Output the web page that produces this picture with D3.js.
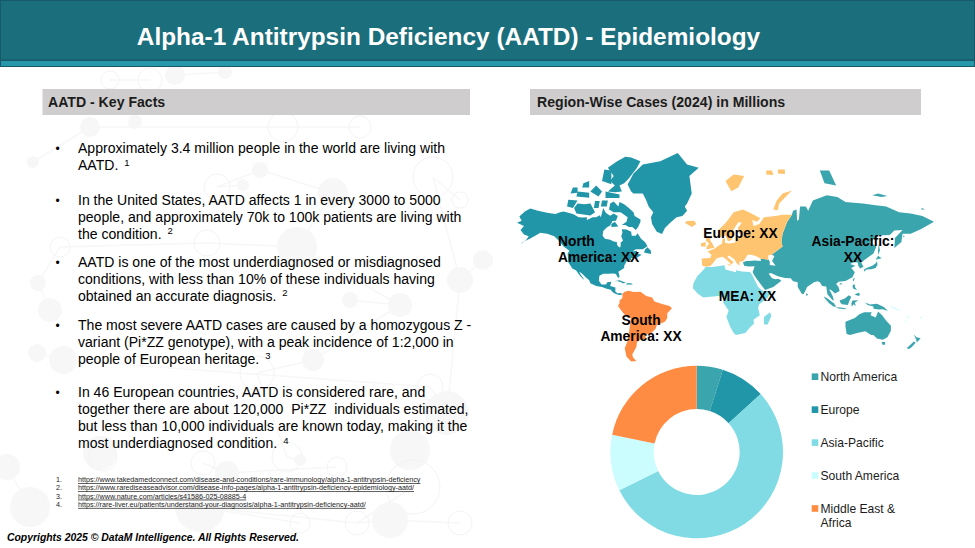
<!DOCTYPE html>
<html>
<head>
<meta charset="utf-8">
<title>AATD Epidemiology</title>
<script src="https://cdn.jsdelivr.net/npm/d3@7/dist/d3.min.js"></script>
<style>
  html, body { margin: 0; padding: 0; background: #fff; overflow: hidden; }
  svg { display: block; }
  text { font-family: "Liberation Sans", Arial, sans-serif; fill: #000; }
</style>
</head>
<body>
<svg id="slide" width="975" height="548"></svg>
<script>

//// DATA

var titleText = "Alpha-1 Antitrypsin Deficiency (AATD) - Epidemiology";
var leftHeading = "AATD - Key Facts";
var rightHeading = "Region-Wise Cases (2024) in Millions";
var copyrightText = "Copyrights 2025 © DataM Intelligence. All Rights Reserved.";

// Donut chart
var regionNames = ["North America", "Europe", "Asia-Pacific", "South America", "Middle East & Africa"];
var regionShares = [4.9, 8.4, 54.4, 10.5, 21.8];
var regionColors = ["#3ba5ae", "#2196a8", "#80dbe4", "#ccfdfe", "#ff8c42"];

// Key facts, one entry per bullet: lines of text and the reference number
var factLines = [
    ["Approximately 3.4 million people in the world are living with", "AATD."],
    ["In the United States, AATD affects 1 in every 3000 to 5000", "people, and approximately 70k to 100k patients are living with", "the condition."],
    ["AATD is one of the most underdiagnosed or misdiagnosed", "conditions, with less than 10% of these individuals having", "obtained an accurate diagnosis."],
    ["The most severe AATD cases are caused by a homozygous Z -", "variant (Pi*ZZ genotype), with a peak incidence of 1:2,000 in", "people of European heritage."],
    ["In 46 European countries, AATD is considered rare, and", "together there are about 120,000  Pi*ZZ  individuals estimated,", "but less than 10,000 individuals are known today, making it the", "most underdiagnosed condition."]
];
var factRefs = ["1", "2", "2", "3", "4"];

var sourceLinks = [
    "https://www.takedamedconnect.com/disease-and-conditions/rare-immunology/alpha-1-antitrypsin-deficiency",
    "https://www.rarediseaseadvisor.com/disease-info-pages/alpha-1-antitrypsin-deficiency-epidemiology-aatd/",
    "https://www.nature.com/articles/s41586-025-08885-4",
    "https://rare-liver.eu/patients/understand-your-diagnosis/alpha-1-antitrypsin-deficiency-aatd/"
];

// Map outlines, as [longitude, latitude] rings
var northAmericaRings = [
    [[-168,65.6],[-164,66.5],[-166,68.3],[-161,70.3],[-156.5,71.3],[-150,70.5],[-141,69.7],[-135,69.3],[-131,70],[-128,70.2],[-124,69.8],[-120,69.3],[-115,68],[-111,67.9],[-108,68],[-108,66.8],[-103,68],[-100,68],[-97,68.8],[-96,68],[-94,71.5],[-92,70],[-91,69.5],[-88,68.6],[-85,69.5],[-81.5,68.5],[-83,66.5],[-86,66.3],[-88,64.2],[-91,63.2],[-94,61.5],[-94.5,58.8],[-92.5,57],[-88,56.5],[-85,55.3],[-82.3,55.1],[-82,52.9],[-80,51.3],[-79,52],[-79,54.5],[-77,56],[-78.5,58.5],[-77.5,60.5],[-78,62.4],[-74,62.2],[-70,61],[-69.5,58.8],[-66,58.8],[-64.5,60.3],[-61.5,57],[-58,54.8],[-56,52.3],[-60,50.2],[-66,50.2],[-69,48.5],[-65,49],[-64.5,47],[-61,46],[-65,43.7],[-70,43.5],[-70,41.7],[-74,40.5],[-76,37],[-76,35],[-81,31.5],[-80,27],[-80.5,25.2],[-82,26.8],[-83,29.3],[-85,29.7],[-89.5,29.5],[-94,29.5],[-97.3,27.5],[-97.7,22.5],[-95.5,18.7],[-91.5,18.5],[-90.5,21],[-87,21.5],[-88,17],[-83.5,15.3],[-83.6,11],[-81.5,9],[-79.5,9.5],[-77.5,8.6],[-78.2,7.5],[-80.5,7.3],[-83,8.3],[-85.5,10],[-87.5,13],[-91,14],[-95,16],[-100,17],[-105,19.8],[-106,23],[-109,26],[-112.5,30],[-114.7,31.5],[-113,28],[-110,23.3],[-112,25],[-115,29],[-117.2,32.5],[-120.5,34.5],[-124,40],[-124.5,47],[-123,49],[-128,52],[-131,55],[-136,58.5],[-142,60],[-148,60.5],[-152,59],[-157,57],[-163,55],[-165,53.5],[-160,56.5],[-158,58.5],[-162,59.5],[-165,62],[-162,64]],
    [[-62,66],[-64,63.5],[-66,62],[-69,63.5],[-72,63.5],[-75,64.5],[-78,64.5],[-74,66],[-73,68],[-76,69],[-79,70],[-85,70],[-89,71],[-88,73],[-85,73.7],[-81,72],[-80,73.5],[-76,72.8],[-72,71.5],[-68,70],[-67,68.5],[-62,67]],
    [[-117,69.5],[-105,68.7],[-101,70],[-105,73],[-110,72.8],[-116,73],[-119,71.5]],
    [[-125,72],[-120,71.5],[-116,74],[-124,74.2]],
    [[-90,76.5],[-84,76.3],[-78,76.5],[-80,78],[-76,78.5],[-72,79.5],[-65,81.5],[-62,82.5],[-70,83],[-75,83.1],[-82,82.5],[-90,81.5],[-85,80],[-88,79],[-84,78]],
    [[-92,74.7],[-80,74.7],[-80,75.7],[-92,76.5]],
    [[-96,72],[-91,72],[-90,74],[-95,74]],
    [[-102,71.5],[-98,71.5],[-97,73.8],[-101,73.8]],
    [[-117,75.2],[-106,74.8],[-106,76.2],[-116,76.5]],
    [[-95,79],[-87,78.3],[-87,81],[-93,81.2]],
    [[-105,76.5],[-98,75.2],[-95,76.5],[-100,78]],
    [[-122,76],[-116,76.2],[-116,77.5],[-120,77.5]],
    [[-112,77.5],[-106,77.5],[-106,79],[-111,78.5]],
    [[-87,63.5],[-81,63.7],[-84,66],[-87,65]],
    [[-59,47.7],[-53,46.7],[-53,49],[-56,51.5],[-58,50]],
    [[-85,22],[-80,23],[-74.2,20.2],[-77.5,19.9],[-78,20.7],[-82,22.3]],
    [[-74.5,18.5],[-68.5,18.5],[-70,19.9],[-73.5,20]],
    [[-73,78.2],[-70,76.5],[-68,76],[-60,76],[-57,74],[-55,72],[-51,70],[-53,68],[-52,65],[-48,61],[-43.5,59.8],[-41,63],[-36,65.8],[-31,68],[-26,68.5],[-22,70.5],[-24,72],[-22,73],[-18,76],[-20,80],[-12,81.5],[-22,82],[-30,83.6],[-45,82.5],[-60,82],[-68,80.5]]
];

var southAmericaRings = [
    [[-77.5,8.6],[-75.5,10.8],[-72,12],[-68,10.6],[-62,10.7],[-57,6],[-52,4.5],[-50,0],[-44,-2.5],[-37,-5],[-35,-7.5],[-39,-13],[-39,-18],[-41,-22],[-48,-25.5],[-49,-29],[-54,-34.5],[-58.5,-34.3],[-57,-38],[-62,-39],[-65,-41],[-65.5,-45],[-69,-50.5],[-68.5,-52.5],[-65.5,-55],[-70,-55.3],[-74,-52],[-75.5,-46],[-73,-40],[-71.5,-30],[-70.3,-18.5],[-76,-14],[-81.3,-5],[-80,-2],[-80,1],[-77.5,4]]
];

var europeRings = [
    [[-9,37],[-9.5,43],[-2,43.5],[-1,46],[-4.5,48.5],[1.5,50.5],[4,52],[8,54],[8.5,57],[10.5,57.5],[10.5,54.5],[14,54],[19,54.5],[21,57],[24,59.3],[30,60],[23,60],[21.5,63],[25,65.5],[22,65.8],[17.5,62],[18.5,59.5],[16,56.2],[13,55.5],[11,59],[6,58],[5,62],[12,66],[18,70],[26,71],[32,69.8],[41,67.5],[38,66],[34,66.8],[35,64],[40,65],[44,68],[54,68.5],[60,69],[68,69],[64,66],[60,60],[59,55],[60,52],[50.6,46],[47.5,45.5],[48,42],[41,43],[37,45],[33,46],[30,46],[28,43],[26,40.5],[23,40.5],[23,36.8],[20,40],[19,42],[14,45.5],[12.5,44.5],[18,40],[16,38],[12,42],[8.5,44.4],[3.5,43.3],[0,39],[-2,36.8],[-5.5,36]],
    [[52,71],[56,70.7],[57,73],[68,76.8],[60,76],[55,74]],
    [[11,79],[16,76.6],[22,77.5],[27,80],[18,80.3]],
    [[46,80.3],[52,80.2],[51,81],[46,81]],
    [[56,80.5],[62,80.4],[62,81.2],[56,81.2]],
    [[-24,65.5],[-18,63.5],[-14,65],[-16,66.5],[-22,66.3]],
    [[-5.5,50],[1.5,51.2],[0,53.5],[-2,56],[-2,57.7],[-5,58.6],[-6,56],[-3,54],[-5,52]],
    [[-10,52],[-6,52],[-6,55],[-10,54.3]],
    [[12.5,38],[15.5,38.2],[15,36.7]]
];

var africaRings = [
    [[-5.9,35.8],[0,35.8],[10,37.3],[11,33.5],[15,32.3],[20,31],[20,32.8],[25,31.6],[32,31.2],[34,27.9],[37,21],[39.5,15.2],[43.3,11.5],[51,12],[47,4],[40,-3],[39,-7],[40.5,-15],[35,-20],[35.5,-24],[32.5,-27],[28,-33],[20,-34.8],[18,-33],[15,-27],[11.8,-17],[13.7,-10],[9,-1],[9.5,4],[5,6],[-4,5],[-8,4.5],[-13,9],[-17,14.7],[-16.5,20],[-13,27.5],[-9.5,31.5]],
    [[49.3,-12],[50.4,-16],[47,-25],[44,-24.5],[44,-17]]
];

var asiaRings = [
    [[26,40],[27,37],[31,36.3],[36,36.5],[35,33],[34.3,31.3],[34.9,29.5],[38,24],[43,16],[45,12.8],[52,16],[59,22.5],[56.5,24.5],[54,24],[51,25],[48,29.5],[50,30.2],[56,27],[62,25.2],[67,25],[69,22],[73,21],[73,16],[76.5,8.5],[78,8],[80,13],[81,16],[87,21],[90,22],[92,21],[94,17],[97.5,16.5],[98.5,8],[103,1.5],[104,1.5],[103,6],[100,13.5],[102,12.5],[105,9],[109,11.5],[108,16],[106,19],[108,21.5],[114,22.3],[120,26],[122,31],[119,35],[122.5,37],[118,38.5],[121.5,40],[124.5,39.8],[125,37],[126.5,34.5],[129.5,36],[127.5,39.8],[132,43],[138,47],[140.5,52],[135,54.8],[142,59],[152,59.2],[156,61.7],[163,62],[156.5,57.5],[156,51],[162,55],[163,60],[170,60],[179,62.5],[190,66],[180,68.5],[170,69.5],[160,70],[149,72],[140,72.5],[129,73],[114,73.5],[107,75],[98,75.5],[86,74],[82,70.5],[80,72],[75,72],[74,67],[72.5,66.5],[72,71],[69,70.5],[68,69],[64,66],[60,60],[59,55],[60,52],[50.6,46],[53,45],[51,41],[54,37],[49,37.5],[49,40.5],[48,42],[41,43],[41.5,41],[36,41.5],[31,41],[29,41]],
    [[80,9.5],[82,7.5],[80.5,6]],
    [[130,31.5],[132,33.5],[136,33.7],[140,35],[141.5,38],[141,41],[139.8,39],[137,37],[132,35],[130,33.5]],
    [[140,42],[145,43.3],[142,45.3]],
    [[142,46],[143.5,49],[142.7,54],[142,50]],
    [[120.2,23],[121,22],[122,25],[121,25]],
    [[108.7,19],[110.5,18.3],[111,20],[109.5,20]],
    [[120.5,18.5],[122.2,18.3],[122,16],[124,13],[121,13.8],[120,16]],
    [[122,7.5],[125.5,6],[126.5,8],[125.5,9.7],[123,8.5]],
    [[95.3,5.5],[98,4],[104,-2],[106,-5.5],[104,-5.7],[100,-2],[96.5,3]],
    [[105.5,-6.5],[110,-6.6],[114.5,-7.7],[114,-8.7],[108,-7.9]],
    [[109,1],[113,3],[117,7],[119,5],[117.5,1],[116,-4],[111,-3],[109.5,-1]],
    [[119.5,-5.5],[121,-3],[123,-5],[122,-1.5],[125,1.5],[120,1],[119,-2.5]],
    [[131,-1],[135,-3.3],[141,-2.6],[147,-6],[150.5,-10.5],[146,-8.5],[143,-9],[138,-8],[138,-5.5],[133,-4]],
    [[114,-22],[122,-18],[126,-14],[130,-12],[136.5,-12],[135.5,-15],[140,-17.5],[142,-11],[145.5,-15],[149,-21],[153,-26],[153,-31],[150,-37],[146,-39],[141,-38],[138,-35],[136,-35],[131,-31.5],[124,-33],[118,-35],[115,-34],[114,-27]],
    [[145,-41],[148,-41],[148,-43],[146,-43.5]],
    [[172.7,-34.5],[175,-37],[178.5,-37.7],[175.3,-41.5],[174.7,-39]],
    [[172.7,-40.6],[174.3,-41.7],[171,-45],[168.5,-46.7],[166.5,-46],[170,-43]],
    [[92,81],[96,78.5],[106,78],[100,81]],
    [[137,75.5],[145,75],[150,75.3],[142,76]],
    [[178.5,71],[182,71],[180,71.5]],
    [[163,58],[164,59],[165,58.5]]
];

var pacificRings = [
    [[152,-4],[155,-6],[159,-8.5],[162,-10.7],[158,-9.5],[154,-7]],
    [[166.5,-15],[168,-16],[169,-19],[167,-17]],
    [[177,-17.5],[180,-16.5],[179,-18.5]],
    [[164,-20],[167,-22],[165.5,-22]]
];

// Map labels, one entry per line
var mapLabels = [
    { lines: ["North", "America: XX"], lon: -132.8, lat: 52.6, anchor: "start" },
    { lines: ["Europe: XX"], lon: 23.9, lat: 57.5, anchor: "middle" },
    { lines: ["Asia-Pacific:", "XX"], lon: 120.4, lat: 52.6, anchor: "middle" },
    { lines: ["MEA: XX"], lon: 29.9, lat: 0.6, anchor: "middle" },
    { lines: ["South", "America: XX"], lon: -61.5, lat: -25.2, anchor: "middle" }
];


//// BACKGROUND DECORATION

// Faint molecule drawing behind the text: [x, y, radius, ring?]
var moleculeNodes = [
    [33,162,6,0],[90,127,10,0],[283,127,15,1],[360,127,11,1],[333,193,15,0],[260,170,8,0],[297,247,20,0],
    [217,187,13,1],[243,185,6,0],[207,243,13,1],[433,177,20,1],[460,200,8,1],[483,260,10,0],[460,280,13,0],
    [60,247,10,1],[38,283,8,0],[50,310,12,0],[400,305,12,0],[350,300,8,0],[37,353,9,0],[63,360,14,0],
    [313,360,11,0],[257,373,17,1],[430,387,13,1],[447,413,22,0],[410,450,20,0],[287,457,15,1],[300,460,6,0],
    [100,453,17,0],[103,457,14,1],[7,467,13,0],[30,507,20,0],[203,463,12,1],[227,473,12,0],[337,467,10,1],
    [413,487,27,1],[357,523,12,1],[390,520,18,0],[460,523,12,1],[300,523,10,1],[200,507,25,0],[150,80,12,1],
    [110,80,9,1],[225,72,7,0],[175,75,10,0],[135,122,7,0]
];
var moleculeLinks = [
    [0,1],[1,2],[2,3],[4,5],[4,6],[5,7],[7,8],[9,6],[10,11],[12,13],[14,15],[15,16],[6,17],[17,18],
    [19,20],[20,23],[21,22],[23,24],[24,25],[26,27],[28,29],[30,31],[32,33],[33,34],[35,36],[36,37],[37,38],
    [39,40],[40,36],[41,42],[43,44],[10,13],[13,24],[22,26],[9,14],[21,17]
];


//// MAIN

var svg = d3.select("#slide");

drawBackground();
drawHeader();
drawFacts();
drawMap();
drawDonut();
drawLegend();


//// FUNCTIONS

///////////////////////////////////
// Faint molecules behind everything
function drawBackground(){
///////////////////////////////////

    var g = svg.append("g");

    g.selectAll("line")
        .data(moleculeLinks)
        .enter()
        .append("line")
        .attr("x1", function(d){ return moleculeNodes[d[0]][0]; })
        .attr("y1", function(d){ return moleculeNodes[d[0]][1]; })
        .attr("x2", function(d){ return moleculeNodes[d[1]][0]; })
        .attr("y2", function(d){ return moleculeNodes[d[1]][1]; })
        .attr("stroke", "#f7f7f7")
        .attr("stroke-width", 1.5);

    g.selectAll("circle")
        .data(moleculeNodes)
        .enter()
        .append("circle")
        .attr("cx", function(d){ return d[0]; })
        .attr("cy", function(d){ return d[1]; })
        .attr("r", function(d){ return d[2]; })
        .attr("fill", function(d){ return d[3] ? "none" : "#f7f7f7"; })
        .attr("stroke", function(d){ return d[3] ? "#f4f4f4" : "none"; })
        .attr("stroke-width", 1);
}

///////////////////////////////////
// Title band and grey section bars
function drawHeader(){
///////////////////////////////////

    svg.append("rect").attr("x", 0).attr("y", 0).attr("width", 975).attr("height", 60)
        .attr("fill", "#1b6e7c");
    svg.append("rect").attr("x", 0.5).attr("y", 0.5).attr("width", 974).attr("height", 59.5)
        .attr("fill", "none").attr("stroke", "#17596a");
    svg.append("rect").attr("x", 0.5).attr("y", 60.5).attr("width", 974).attr("height", 6)
        .attr("fill", "#2698aa").attr("stroke", "#17596a");

    svg.append("text")
        .attr("x", 448.5).attr("y", 45)
        .attr("text-anchor", "middle")
        .attr("font-size", 24.4)
        .attr("font-weight", "bold")
        .style("fill", "#fff")
        .text(titleText);

    svg.append("rect").attr("x", 42.5).attr("y", 89).attr("width", 427.5).attr("height", 26).attr("fill", "#cfcdcd");
    svg.append("rect").attr("x", 530).attr("y", 89).attr("width", 391).attr("height", 26).attr("fill", "#cfcdcd");

    svg.append("text").attr("x", 48).attr("y", 107)
        .attr("font-size", 14.1).attr("font-weight", "bold").style("fill", "#1c1c1c").text(leftHeading);
    svg.append("text").attr("x", 537).attr("y", 107)
        .attr("font-size", 14.1).attr("font-weight", "bold").style("fill", "#1c1c1c").text(rightHeading);
}

///////////////////////////////////
// Bullets, sources and copyright line
function drawFacts(){
///////////////////////////////////

    var lineStep = 17;
    var bulletTops = [153, 204.5, 266.5, 329.5, 397];

    factLines.forEach(function(lines, i){

        svg.append("text")
            .attr("x", 55.5).attr("y", bulletTops[i])
            .attr("font-size", 12)
            .text("•");

        lines.forEach(function(line, j){
            var t = svg.append("text")
                .attr("x", 78).attr("y", bulletTops[i] + j*lineStep)
                .attr("font-size", 14.05)
                .style("white-space", "pre")
                .text(line);

            // Reference number after the last line
            if (j == lines.length - 1){
                t.append("tspan")
                    .attr("dx", 6).attr("dy", -4.5)
                    .attr("font-size", 9.5)
                    .text(factRefs[i]);
            }
        });
    });

    sourceLinks.forEach(function(link, i){
        var y = 482 + i*8.3;
        svg.append("text").attr("x", 56).attr("y", y).attr("font-size", 7.2).style("fill", "#222").text((i+1) + ".");
        svg.append("text").attr("x", 78).attr("y", y).attr("font-size", 7.2).style("fill", "#222")
            .attr("text-decoration", "underline").text(link);
    });

    svg.append("text")
        .attr("x", 7).attr("y", 540.5)
        .attr("font-size", 10.4)
        .attr("font-weight", "bold")
        .attr("font-style", "italic")
        .text(copyrightText);
}

///////////////////////////////////
// World map with its region labels
function drawMap(){
///////////////////////////////////

    // Squashed Mercator, fitted on the reference
    var xScale = d3.scaleLinear().domain([-168, 190]).range([517, 934]);
    var yScale = d3.scaleLinear().domain([0, 1]).range([301.5, 250]);
    var mercator = function(lat){
        return Math.log(Math.tan(Math.PI/4 + lat*Math.PI/360));
    };

    var ringLine = d3.line()
        .x(function(d){ return xScale(d[0]); })
        .y(function(d){ return yScale(mercator(d[1])); })
        .curve(d3.curveLinearClosed);

    var layers = [
        { rings: pacificRings, color: regionColors[3] },
        { rings: asiaRings, color: regionColors[0] },
        { rings: europeRings, color: "#ffc46f" },
        { rings: africaRings, color: regionColors[2] },
        { rings: northAmericaRings, color: regionColors[1] },
        { rings: southAmericaRings, color: regionColors[4] }
    ];

    layers.forEach(function(layer){
        svg.append("g").selectAll("path")
            .data(layer.rings)
            .enter()
            .append("path")
            .attr("d", ringLine)
            .attr("fill", layer.color);
    });

    mapLabels.forEach(function(label){
        label.lines.forEach(function(line, j){
            svg.append("text")
                .attr("x", xScale(label.lon))
                .attr("y", yScale(mercator(label.lat)) + j*16.5)
                .attr("text-anchor", label.anchor)
                .attr("font-size", 13.8)
                .attr("font-weight", "bold")
                .text(line);
        });
    });
}

///////////////////////////////////
// Donut chart of the region shares
function drawDonut(){
///////////////////////////////////

    var pie = d3.pie().sort(null);
    var arc = d3.arc().innerRadius(43).outerRadius(86.3);

    svg.append("g")
        .attr("transform", "translate(696.7,452)")
        .selectAll("path")
        .data(pie(regionShares))
        .enter()
        .append("path")
        .attr("d", arc)
        .attr("fill", function(d, i){ return regionColors[i]; });
}

///////////////////////////////////
// Legend to the right of the donut
function drawLegend(){
///////////////////////////////////

    var yScale = d3.scalePoint().domain(regionNames).range([376.7, 508.5]);

    regionNames.forEach(function(name, i){
        var y = yScale(name);

        svg.append("rect")
            .attr("x", 811.7).attr("y", y - 3.3)
            .attr("width", 6.6).attr("height", 6.6)
            .attr("fill", regionColors[i]);

        // Last name wraps after the ampersand
        var parts = name.indexOf("&") > 0 ? ["Middle East &", "Africa"] : [name];
        parts.forEach(function(part, j){
            svg.append("text")
                .attr("x", 820.5).attr("y", y + 4.2 + j*14)
                .attr("font-size", 12.1)
                .style("fill", "#1c1c1c")
                .text(part);
        });
    });
}

</script>
</body>
</html>
